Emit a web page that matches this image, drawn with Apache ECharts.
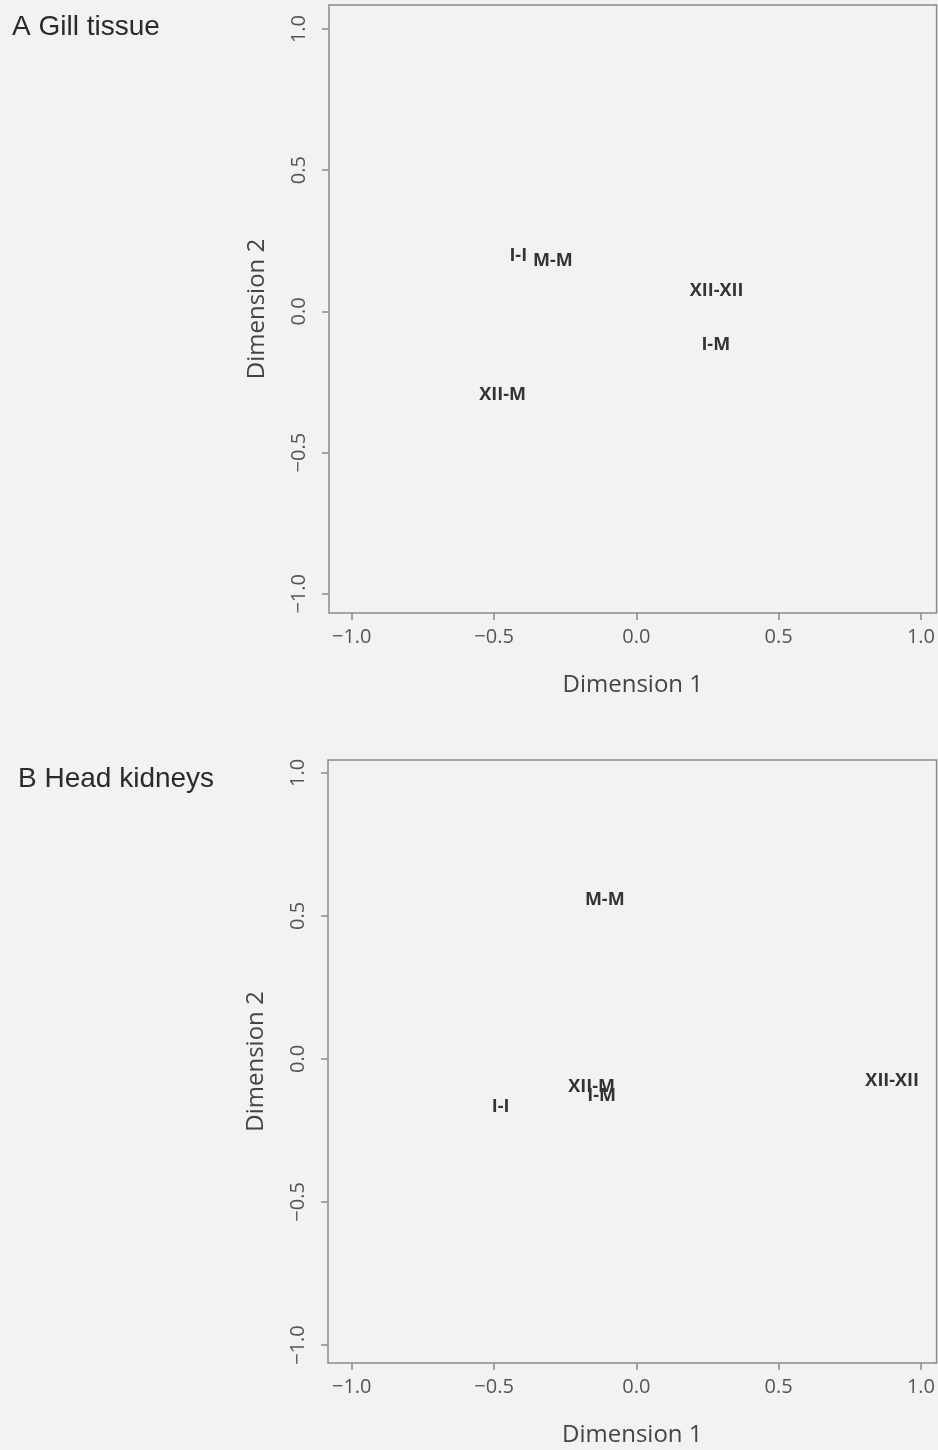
<!DOCTYPE html>
<html>
<head>
<meta charset="utf-8">
<script src="https://cdn.jsdelivr.net/npm/echarts@6/dist/echarts.min.js"></script>
<style>
html,body{margin:0;padding:0;background:#f2f2f2;}
#chart{width:938px;height:1450px;}
</style>
</head>
<body>
<div id="chart"></div>
<script>
// ---- data ----
const panelTitles = ['A Gill tissue', 'B Head kidneys'];
const gillLabels = ['I-I', 'M-M', 'XII-XII', 'I-M', 'XII-M'];
const gillDim1 = [-0.415, -0.293, 0.282, 0.279, -0.470];
const gillDim2 = [0.195, 0.180, 0.071, -0.120, -0.297];
const kidneyLabels = ['M-M', 'XII-XII', 'XII-M', 'I-M', 'I-I'];
const kidneyDim1 = [-0.111, 0.899, -0.157, -0.122, -0.477];
const kidneyDim2 = [0.556, -0.077, -0.098, -0.129, -0.168];
const tickValues = [-1.0, -0.5, 0.0, 0.5, 1.0];
const xAxisTitle = 'Dimension 1';
const yAxisTitle = 'Dimension 2';

// ---- chart ----
const axisGray = '#8a8a8a';
const labelFont = '"Open Sans", "Noto Sans", sans-serif';
function fmt(v) {
  const s = Number(v).toFixed(1);
  return s.replace('-', '\u2212');
}
function makeX(gi, mn, mx) {
  return {
    gridIndex: gi, type: 'value', min: mn, max: mx,
    axisLine: {show: false, onZero: false},
    axisTick: {show: true, customValues: tickValues, length: 7, inside: false, lineStyle: {color: axisGray, width: 1.5}},
    axisLabel: {show: true, customValues: tickValues, formatter: fmt, margin: 14, color: '#555', fontSize: 20, fontFamily: labelFont},
    splitLine: {show: false},
    name: xAxisTitle, nameLocation: 'middle', nameGap: 60,
    nameTextStyle: {color: '#444', fontSize: 24, fontFamily: labelFont}
  };
}
function makeY(gi, mn, mx) {
  return {
    gridIndex: gi, type: 'value', min: mn, max: mx,
    axisLine: {show: false, onZero: false},
    axisTick: {show: true, customValues: tickValues, length: 7, lineStyle: {color: axisGray, width: 1.5}},
    axisLabel: {show: true, customValues: tickValues, formatter: fmt, rotate: 90, margin: 20, color: '#555', fontSize: 20, fontFamily: labelFont},
    splitLine: {show: false},
    name: yAxisTitle, nameLocation: 'middle', nameGap: 60, nameRotate: 90,
    nameTextStyle: {color: '#444', fontSize: 24, fontFamily: labelFont}
  };
}
function makeSeries(gi, labels, d1, d2) {
  return {
    type: 'scatter', xAxisIndex: gi, yAxisIndex: gi,
    symbol: 'circle', symbolSize: 2,
    itemStyle: {color: 'rgba(0,0,0,0)'},
    label: {
      show: true, position: 'inside', opacity: 1,
      formatter: p => p.data[2],
      color: '#333', fontSize: 18, fontWeight: 'bold', fontFamily: labelFont
    },
    labelLayout: {hideOverlap: false},
    data: labels.map((l, i) => [d1[i], d2[i], l])
  };
}

const chart = echarts.init(document.getElementById('chart'), null, {renderer: 'canvas'});
chart.setOption({
  backgroundColor: '#f2f2f2',
  animation: false,
  title: [
    {text: panelTitles[0], left: 7, top: 8, textStyle: {fontFamily: '"Liberation Sans", Arial, sans-serif', fontWeight: 'normal', fontSize: 28, color: '#2a2a2a'}},
    {text: panelTitles[1], left: 13, top: 760, textStyle: {fontFamily: '"Liberation Sans", Arial, sans-serif', fontWeight: 'normal', fontSize: 28, color: '#2a2a2a'}}
  ],
  grid: [
    {left: 329, top: 5, width: 609, height: 608, show: true, borderColor: axisGray, borderWidth: 1.5, backgroundColor: 'transparent'},
    {left: 328, top: 760, width: 610, height: 603, show: true, borderColor: axisGray, borderWidth: 1.5, backgroundColor: 'transparent'}
  ],
  xAxis: [makeX(0, -1.08, 1.055), makeX(1, -1.0835, 1.055)],
  yAxis: [makeY(0, -1.068, 1.085), makeY(1, -1.063, 1.045)],
  series: [
    makeSeries(0, gillLabels, gillDim1, gillDim2),
    makeSeries(1, kidneyLabels, kidneyDim1, kidneyDim2)
  ]
});
</script>
</body>
</html>
